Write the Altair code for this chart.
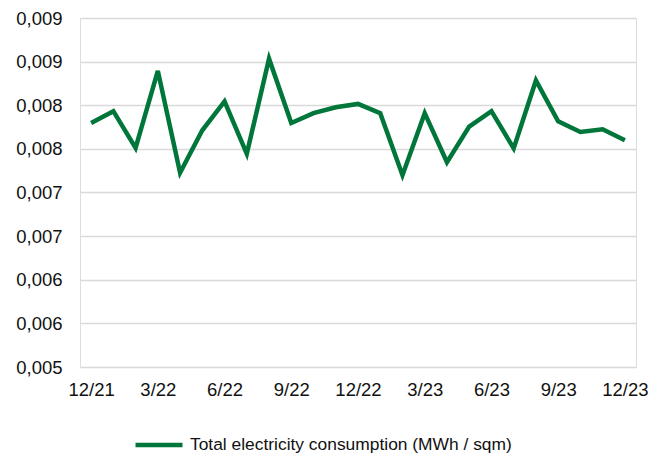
import altair as alt
import pandas as pd

months = ["12/21", "1/22", "2/22", "3/22", "4/22", "5/22", "6/22", "7/22", "8/22",
          "9/22", "10/22", "11/22", "12/22", "1/23", "2/23", "3/23", "4/23", "5/23",
          "6/23", "7/23", "8/23", "9/23", "10/23", "11/23", "12/23"]
values = [0.007796, 0.007932, 0.007511, 0.008394, 0.007227, 0.007713, 0.008045,
          0.007443, 0.008534, 0.007796, 0.007909, 0.007977, 0.008015, 0.007909,
          0.007199, 0.007909, 0.007347, 0.007756, 0.007932, 0.007506, 0.008284,
          0.007815, 0.007693, 0.007724, 0.007599]
x_ticks = ["12/21", "3/22", "6/22", "9/22", "12/22", "3/23", "6/23", "9/23", "12/23"]
y_ticks = [0.005, 0.0055, 0.006, 0.0065, 0.007, 0.0075, 0.008, 0.0085, 0.009]
series_name = "Total electricity consumption (MWh / sqm)"

df = pd.DataFrame({"month": months, "value": values, "series": series_name})

FONT = "Liberation Sans"

chart = alt.Chart(df).mark_line(strokeWidth=4.5, strokeJoin="miter", strokeCap="butt").encode(
    x=alt.X("month:O", sort=months,
            scale=alt.Scale(type="point", padding=0.5),
            axis=alt.Axis(values=x_ticks, title=None, labelAngle=0, ticks=False,
                          domain=False, grid=False, labelPadding=13,
                          labelFont=FONT, labelFontSize=18.5, labelColor="#111111")),
    y=alt.Y("value:Q",
            scale=alt.Scale(domain=[0.005, 0.009], nice=False, zero=False),
            axis=alt.Axis(values=y_ticks, title=None, ticks=False, domain=False,
                          grid=True, gridColor="#d9d9d9", gridWidth=1.6,
                          labelPadding=18, labelFont=FONT, labelFontSize=18.5,
                          labelColor="#111111",
                          labelExpr="replace(format(round(datum.value*1000+0.0001)/1000, '.3f'), '.', ',')")),
    color=alt.Color("series:N",
                    scale=alt.Scale(domain=[series_name], range=["#00763A"]),
                    legend=alt.Legend(title=None, orient="none", legendX=53, legendY=401,
                                      symbolType="stroke", symbolSize=2209,
                                      symbolStrokeWidth=4.5, labelOffset=5, padding=0,
                                      labelFont=FONT, labelFontSize=17.4,
                                      labelColor="#111111", labelLimit=600)),
).properties(
    width=556, height=349,
    autosize=alt.AutoSizeParams(type="none"),
    padding={"left": 72, "top": 10, "right": 19, "bottom": 87},
).configure_view(stroke=None).configure(background="white")

chart.save("out.html", embed_options={"renderer": "svg", "actions": False})
